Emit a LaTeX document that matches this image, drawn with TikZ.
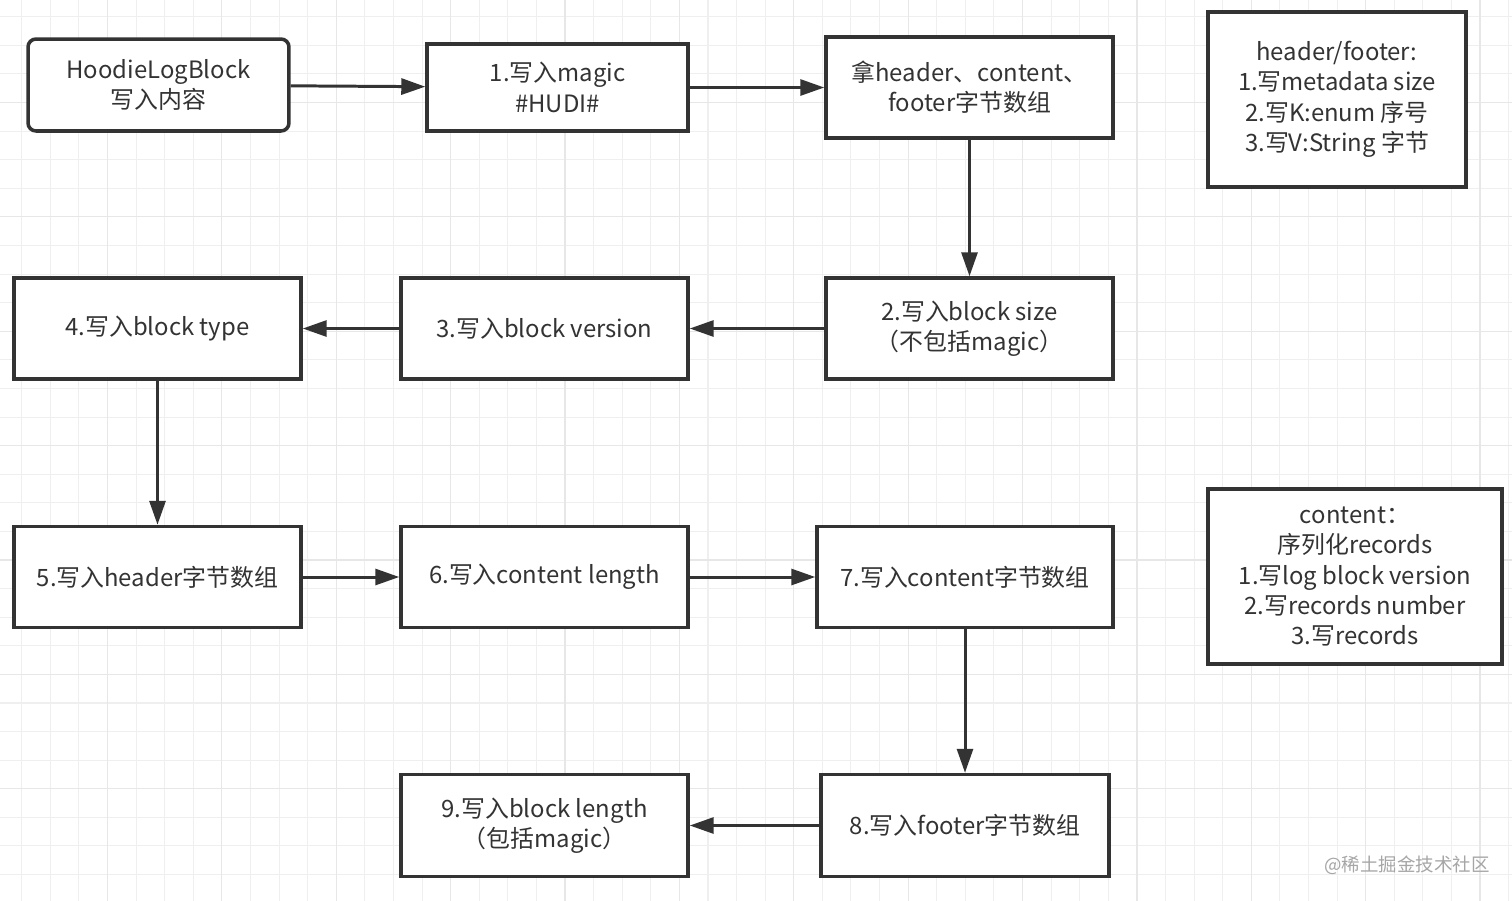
\documentclass[tikz,border=0pt]{standalone}
\usepackage{fontspec}
\setmainfont{Noto Sans CJK SC}
\usetikzlibrary{arrows.meta}
\usetikzlibrary{positioning}
\definecolor{ink}{HTML}{333333}
\definecolor{gridminor}{HTML}{EFEFEF}
\definecolor{gridmajor}{HTML}{E7E7E7}
\tikzstyle{stepbox} = [rectangle, minimum width=5.74cm, minimum height=2.02cm, text centered, align=center, draw=ink, line width=2pt, fill=white, text=ink, font=\fontsize{13.6}{17.3}\selectfont]
\tikzstyle{notebox} = [stepbox, minimum height=3.5cm]
\tikzstyle{flow} = [draw=ink, line width=1.7pt, -{Triangle[length=0.48cm,width=0.32cm]}]

\begin{document}
\begin{tikzpicture}[x=0.02cm, y=-0.02cm]

\fill[white] (0,0) rectangle (1512,900);
\useasboundingbox (0,0) rectangle (1512,900);
\draw[gridminor, line width=0.6pt, shift={(21.7,16.7)}, step=0.572cm] (-30,-30) grid (1500,890);
\draw[gridmajor, line width=0.7pt, shift={(107.5,102.5)}, step=2.288cm] (-120,-120) grid (1420,800);

\node (start) [stepbox, rounded corners=0.16cm, minimum width=5.22cm, minimum height=1.84cm] at (158.5,85) {HoodieLogBlock\\写入内容};
\node (magic) [stepbox, minimum width=5.22cm, minimum height=1.74cm] at (557.5,87.5) {1.写入magic\\\#HUDI\#};
\node (grab) [stepbox] at (969.5,87.5) {拿header、content、\\footer字节数组};
\node (hfnote) [notebox, minimum width=5.16cm] at (1337,99.5) {header/footer:\\1.写metadata size\\2.写K:enum 序号\\3.写V:String 字节};

\node (size) [stepbox] at (969.5,328.5) {2.写入block size\\（不包括magic）};
\node (version) [stepbox] at (544.5,328.5) {3.写入block version};
\node (type) [stepbox] at (157.5,328.5) {4.写入block type};

\node (header) [stepbox] at (157.5,577) {5.写入header字节数组};
\node (clength) [stepbox] at (544.5,577) {6.写入content length};
\node (cbytes) [stepbox, minimum width=5.92cm] at (965,577) {7.写入content字节数组};
\node (cnote) [notebox, minimum width=5.88cm] at (1355,576.5) {content：\\序列化records\\1.写log block version\\2.写records number\\3.写records};

\node (footer) [stepbox, minimum width=5.76cm, minimum height=2.04cm] at (965,825.5) {8.写入footer字节数组};
\node (blength) [stepbox, minimum height=2.04cm] at (544.5,825.5) {9.写入block length\\（包括magic）};

\node (mark) [text=gray!70, font=\fontsize{10.5}{13}\selectfont] at (1407,865) {@稀土掘金技术社区};

\draw [flow] (start) -- (magic);
\draw [flow] (magic) -- (grab);
\draw [flow] (grab) -- (size);
\draw [flow] (size) -- (version);
\draw [flow] (version) -- (type);
\draw [flow] (type) -- (header);
\draw [flow] (header) -- (clength);
\draw [flow] (clength) -- (cbytes);
\draw [flow] (cbytes) -- (footer);
\draw [flow] (footer) -- (blength);

\end{tikzpicture}
\end{document}
